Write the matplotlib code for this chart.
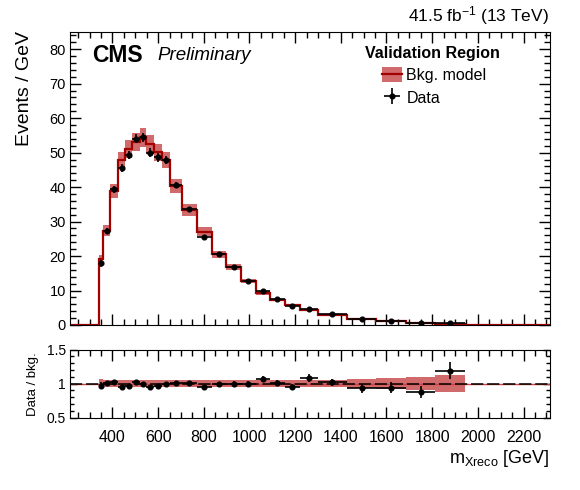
import matplotlib
matplotlib.use('Agg')
import matplotlib.pyplot as plt
import numpy as np
from matplotlib.patches import Patch
from matplotlib.lines import Line2D
from matplotlib.ticker import MultipleLocator, FixedLocator

plt.rcParams['font.family'] = ['Liberation Sans', 'DejaVu Sans']
plt.rcParams['mathtext.fontset'] = 'custom'
plt.rcParams['mathtext.rm'] = 'Liberation Sans'
plt.rcParams['mathtext.it'] = 'Liberation Sans:italic'
plt.rcParams['mathtext.bf'] = 'Liberation Sans:bold'

# ---------------- data ----------------
bin_edges = [340, 360, 389, 425, 455, 487, 519, 549, 583, 618, 650, 706, 768,
             837, 899, 961, 1027, 1090, 1154, 1221, 1298, 1429, 1556, 1686,
             1814, 1942]
bkg = [19.1, 27.4, 38.9, 47.9, 51.0, 53.0, 54.4, 52.4, 50.1, 47.9, 40.3, 33.3,
       27.1, 20.5, 16.9, 12.8, 9.3, 7.3, 5.8, 4.35, 3.0, 1.88, 1.18, 0.72, 0.38]
bkg_rel_unc = [0.06, 0.055, 0.05, 0.05, 0.05, 0.05, 0.05, 0.05, 0.05, 0.05,
               0.05, 0.05, 0.05, 0.05, 0.05, 0.05, 0.05, 0.05, 0.05, 0.05,
               0.055, 0.065, 0.075, 0.09, 0.12]
data = [17.9, 27.3, 39.4, 45.5, 49.3, 54.1, 54.4, 50.0, 48.6, 47.9, 40.5, 33.6,
        25.6, 20.5, 16.9, 12.8, 9.9, 7.4, 5.5, 4.7, 3.05, 1.75, 1.1, 0.63, 0.45]
data_err = [0.95, 0.97, 1.05, 1.23, 1.24, 1.3, 1.35, 1.21, 1.18, 1.22, 0.85,
            0.74, 0.61, 0.57, 0.52, 0.44, 0.40, 0.34, 0.29, 0.25, 0.15, 0.12,
            0.09, 0.07, 0.06]
ratio = [0.965, 1.005, 1.02, 0.95, 0.965, 1.02, 1.0, 0.955, 0.97, 1.0, 1.005,
         1.01, 0.946, 1.0, 1.0, 1.0, 1.065, 1.01, 0.95, 1.08, 1.015, 0.93,
         0.94, 0.87, 1.19]
ratio_err = [0.05, 0.035, 0.027, 0.026, 0.024, 0.024, 0.025, 0.023, 0.024,
             0.025, 0.021, 0.022, 0.022, 0.028, 0.031, 0.035, 0.043, 0.047,
             0.05, 0.057, 0.05, 0.064, 0.076, 0.09, 0.13]
x_range = (214, 2316)
y_range = (0, 85)
ratio_range = (0.5, 1.5)
x_major = [400, 600, 800, 1000, 1200, 1400, 1600, 1800, 2000, 2200]

# ---------------- styling ----------------
band_color = '#cc5b5b'
line_color = '#a30000'

W, H = 580, 490
fig = plt.figure(figsize=(W / 100, H / 100), dpi=100)
ax = fig.add_axes([70 / W, 1 - 325 / H, 480 / W, 293 / H])
rax = fig.add_axes([70 / W, 1 - 417.5 / H, 480 / W, 68 / H])

e = np.array(bin_edges, dtype=float)
b = np.array(bkg)
u = np.array(bkg_rel_unc)
d = np.array(data)
centers = 0.5 * (e[:-1] + e[1:])
half = 0.5 * (e[1:] - e[:-1])

# main panel
ax.stairs(b * (1 + u), e, baseline=b * (1 - u), fill=True,
          color=band_color, lw=0, alpha=0.9, zorder=1)
full_edges = np.concatenate([[x_range[0]], e, [x_range[1]]])
full_vals = np.concatenate([[0.0], b, [0.0]])
ax.stairs(full_vals, full_edges, color=line_color, lw=1.6, zorder=2)
ax.errorbar(centers, d, xerr=half, yerr=data_err, fmt='o', color='black',
            ms=3.4, elinewidth=1.2, capsize=0, zorder=3)

ax.set_xlim(*x_range)
ax.set_ylim(*y_range)
ax.xaxis.set_major_locator(FixedLocator(x_major))
ax.xaxis.set_minor_locator(MultipleLocator(50))
ax.yaxis.set_major_locator(MultipleLocator(10))
ax.yaxis.set_minor_locator(MultipleLocator(2))
ax.tick_params(which='both', direction='in', top=True, right=True, width=1)
ax.tick_params(which='major', length=8)
ax.tick_params(which='minor', length=4)
ax.tick_params(axis='y', labelsize=10.5, pad=3)
ax.tick_params(axis='x', labelbottom=False)

# ratio panel
rax.stairs(1 + u, e, baseline=1 - u, fill=True, color=band_color, lw=0,
           alpha=0.9, zorder=1)
rax.axhline(1.0, color='#d04040', lw=1.0, zorder=2)
rax.axhline(1.0, color='black', lw=1.1, dashes=(8, 2.5), zorder=2.5)
rax.errorbar(centers, ratio, xerr=half, yerr=ratio_err, fmt='o',
             color='black', ms=3.4, elinewidth=1.2, capsize=0, zorder=3)
rax.set_xlim(*x_range)
rax.set_ylim(*ratio_range)
rax.xaxis.set_major_locator(FixedLocator(x_major))
rax.xaxis.set_minor_locator(MultipleLocator(50))
rax.yaxis.set_major_locator(FixedLocator([0.5, 1.0, 1.5]))
rax.yaxis.set_minor_locator(MultipleLocator(0.1))
rax.set_yticklabels(['0.5', '1', '1.5'])
rax.tick_params(which='both', direction='in', top=True, right=True, width=1)
rax.tick_params(which='major', length=8)
rax.tick_params(which='minor', length=4)
rax.tick_params(axis='y', which='major', length=5, labelsize=10, pad=3)
rax.tick_params(axis='y', which='minor', length=3)
rax.tick_params(axis='x', labelsize=11.5, pad=9)

# texts
fig.text(549 / W, 1 - 27 / H, r'41.5 fb$^{-1}$ (13 TeV)', ha='right',
         va='bottom', fontsize=12.5)
ax.text(92 / W, 1 - 62 / H, 'CMS', transform=fig.transFigure,
        fontsize=16.5, fontweight='bold', ha='left', va='baseline')
ax.text(157 / W, 1 - 60 / H, 'Preliminary', transform=fig.transFigure,
        fontsize=13.5, fontstyle='italic', ha='left', va='baseline')
fig.text(25 / W, 1 - 31.5 / H, 'Events / GeV', rotation=90, ha='center',
         va='top', fontsize=14)
fig.text(33 / W, 1 - 384 / H, 'Data / bkg.', rotation=90, ha='center',
         va='center', fontsize=9.5)
fig.text(549 / W, 1 - 463 / H, r'm$_{\mathregular{Xreco}}$ [GeV]',
         ha='right', va='baseline', fontsize=13)

# legend
ax.text(365 / W, 1 - 58 / H, 'Validation Region', transform=fig.transFigure,
        fontsize=11.5, fontweight='bold', ha='left', va='baseline')
h_bkg = (Patch(facecolor=band_color, alpha=0.9, edgecolor='none'),
         Line2D([], [], color=line_color, lw=1.6))
h_data = ax.errorbar([], [], xerr=[], yerr=[], fmt='o', color='black', ms=3.4,
                     elinewidth=1.2, capsize=0)
leg = ax.legend([h_bkg, h_data], ['Bkg. model', 'Data'], loc='upper left',
                bbox_to_anchor=(381.5 / W, 1 - 67 / H),
                bbox_transform=fig.transFigure, frameon=False, fontsize=11.5,
                handlelength=1.3, handleheight=1.1, handletextpad=0.25,
                labelspacing=0.42, borderpad=0, borderaxespad=0)

fig.savefig('out.png', dpi=100)
